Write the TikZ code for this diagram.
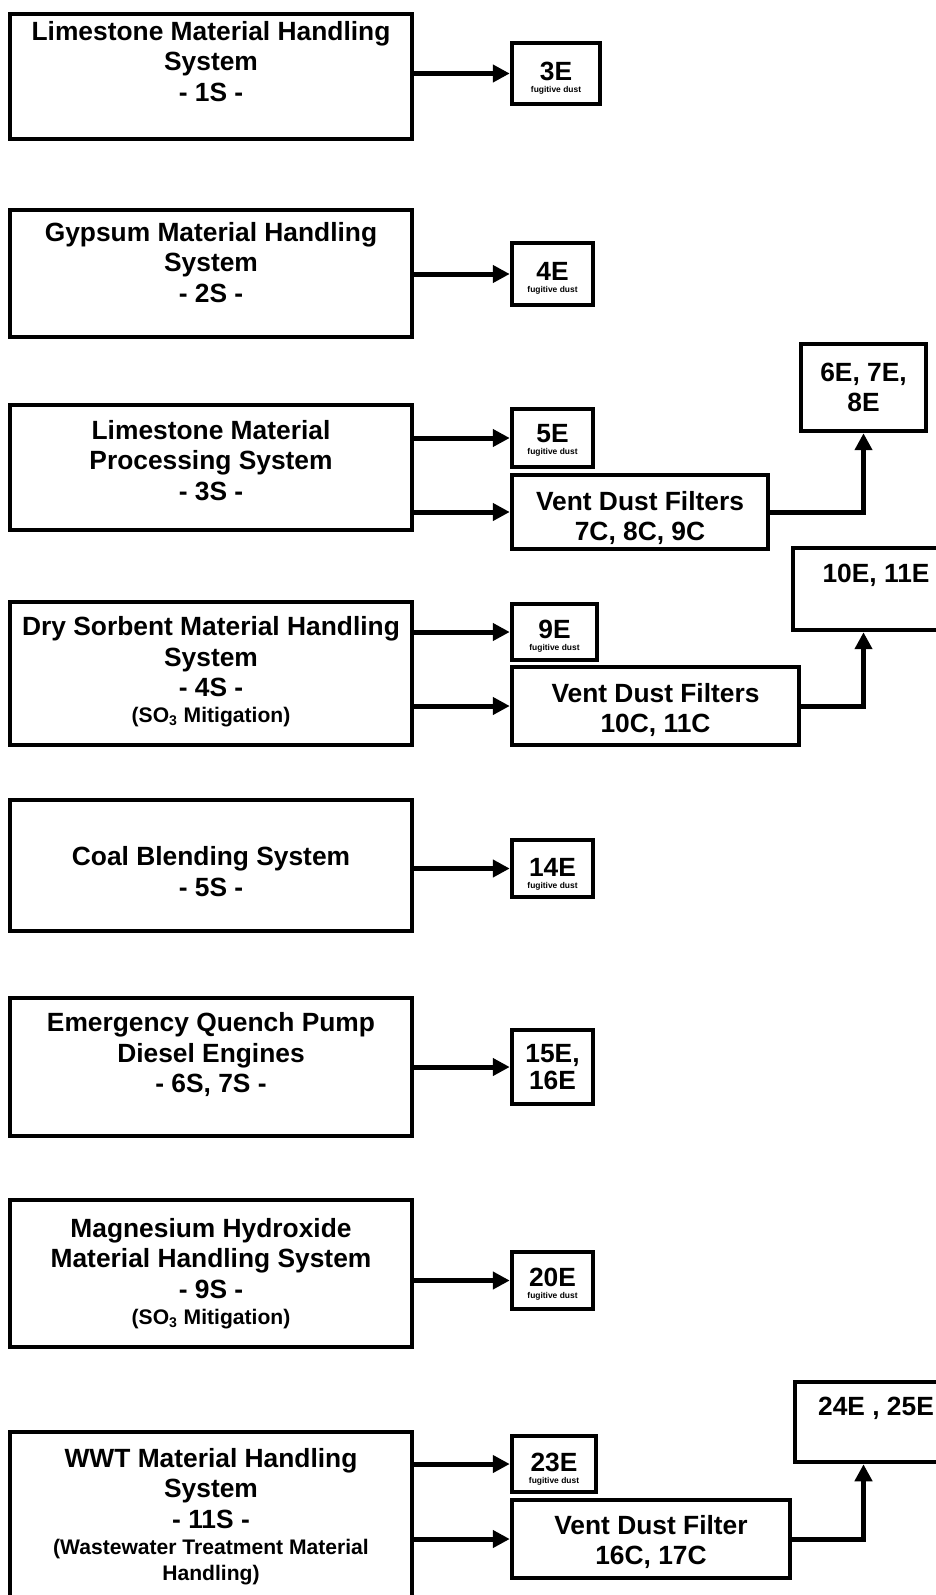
\documentclass[tikz,border=0pt]{standalone}
\usepackage{fontspec}
\setmainfont{Liberation Sans}
\usetikzlibrary{arrows.meta}
\newcommand{\fugdust}{{\fontsize{4.8}{5.5}\selectfont fugitive dust}}
\newcommand{\subnote}[1]{{\fontsize{12}{14}\selectfont #1}}
\newcommand{\topgap}[1]{\rule{0pt}{#1}}

\begin{document}
\begin{tikzpicture}[x=0.02cm, y=-0.02cm,
  sysbox/.style={draw, line width=0.09cm, inner sep=0pt, minimum width=8.04cm},
  systext/.style={font=\fontsize{15}{17.3}\selectfont\bfseries, align=center, inner sep=0pt},
  emitbox/.style={draw, line width=0.09cm, inner sep=0pt, align=center,
    font=\fontsize{15}{17.3}\selectfont\bfseries},
  flow/.style={line width=0.1cm, -{Triangle[length=0.34cm, width=0.34cm]}}]
  \useasboundingbox (0,0) rectangle (936,1595);
  \clip (0,0) rectangle (936,1595);
  % Limestone handling (1S)
  \node[sysbox, minimum height=2.5cm] (s1) at (211,76.5) {};
  \node[systext] (s1t) at (211,61.5) {Limestone Material Handling\\System\\- 1S -};
  \node[emitbox, minimum width=1.76cm, minimum height=1.22cm] (e3) at (556,73.5)
    {\topgap{15.5pt}3E\\[-10.5pt]\fugdust};
  \draw[flow] (s1.east |- e3.west) -- (e3.west);
  % Gypsum handling (2S)
  \node[sysbox, minimum height=2.54cm] (s2) at (211,273.5) {};
  \node[systext] (s2t) at (211,262.5) {Gypsum Material Handling\\System\\- 2S -};
  \node[emitbox, minimum width=1.62cm, minimum height=1.24cm] (e4) at (552.5,274)
    {\topgap{15.5pt}4E\\[-10.5pt]\fugdust};
  \draw[flow] (s2.east |- e4.west) -- (e4.west);
  % Limestone processing (3S) with vent filters
  \node[sysbox, minimum height=2.5cm] (s3) at (211,467.5) {};
  \node[systext] (s3t) at (211,460.5) {Limestone Material\\Processing System\\- 3S -};
  \node[emitbox, minimum width=1.62cm, minimum height=1.16cm] (e5) at (552.5,438)
    {\topgap{13pt}5E\\[-10.5pt]\fugdust};
  \node[emitbox, minimum width=5.12cm, minimum height=1.48cm] (v1) at (640,512)
    {\topgap{17.5pt}Vent Dust Filters\\7C, 8C, 9C};
  \node[emitbox, minimum width=2.5cm, minimum height=1.74cm] (e6) at (863.5,387.5)
    {6E, 7E,\\8E};
  \draw[flow] (s3.east |- e5.west) -- (e5.west);
  \draw[flow] (s3.east |- v1.west) -- (v1.west);
  \draw[flow] (v1.east) -| (e6.south);
  % Dry sorbent handling (4S)
  \node[sysbox, minimum height=2.86cm] (s4) at (211,673.5) {};
  \node[systext] (s4t) at (211,672)
    {Dry Sorbent Material Handling\\System\\- 4S -\\[-2.5pt]\subnote{(SO\textsubscript{3} Mitigation)}};
  \node[emitbox, minimum width=1.7cm, minimum height=1.12cm] (e9) at (554.5,632)
    {\topgap{15pt}9E\\[-10.5pt]\fugdust};
  \node[emitbox, minimum width=5.74cm, minimum height=1.56cm] (v2) at (655.5,706)
    {\topgap{15.5pt}Vent Dust Filters\\10C, 11C};
  \node[emitbox, minimum width=3.34cm, minimum height=1.64cm] (e10) at (876.5,589) {};
  \node[systext] (e10t) at (876,575) {10E, 11E};
  \draw[flow] (s4.east |- e9.west) -- (e9.west);
  \draw[flow] (s4.east |- v2.west) -- (v2.west);
  \draw[flow] (v2.east) -| (e10.south -| e6.south);
  % Coal blending (5S)
  \node[sysbox, minimum height=2.62cm] (s5) at (211,865.5) {};
  \node[systext] (s5t) at (211,871.5) {Coal Blending System\\- 5S -};
  \node[emitbox, minimum width=1.62cm, minimum height=1.14cm] (e14) at (552.5,868.5)
    {\topgap{16.5pt}14E\\[-10.5pt]\fugdust};
  \draw[flow] (s5.east |- e14.west) -- (e14.west);
  % Quench pump engines (6S, 7S)
  \node[sysbox, minimum height=2.76cm] (s6) at (211,1067) {};
  \node[systext] (s6t) at (211,1054.5) {Emergency Quench Pump\\Diesel Engines\\- 6S, 7S -};
  \node[emitbox, minimum width=1.62cm, minimum height=1.48cm] (e15) at (552.5,1067)
    {15E,\\[-2.3pt]16E};
  \draw[flow] (s6.east |- e15.west) -- (e15.west);
  % Magnesium hydroxide handling (9S)
  \node[sysbox, minimum height=2.94cm] (s7) at (211,1273.5) {};
  \node[systext] (s7t) at (211,1273.5)
    {Magnesium Hydroxide\\Material Handling System\\- 9S -\\[-2.5pt]\subnote{(SO\textsubscript{3} Mitigation)}};
  \node[emitbox, minimum width=1.62cm, minimum height=1.14cm] (e20) at (552.5,1280.5)
    {\topgap{14.5pt}20E\\[-10.5pt]\fugdust};
  \draw[flow] (s7.east |- e20.west) -- (e20.west);
  % WWT handling (11S)
  \node[sysbox, minimum height=3.3cm] (s8) at (211,1514.5) {};
  \node[systext] (s8t) at (211,1516.5)
    {WWT Material Handling\\System\\- 11S -\\[-2.5pt]\subnote{(Wastewater Treatment Material}\\[-2.5pt]\subnote{Handling)}};
  \node[emitbox, minimum width=1.68cm, minimum height=1.12cm] (e23) at (554,1464)
    {\topgap{16pt}23E\\[-10.5pt]\fugdust};
  \node[emitbox, minimum width=5.56cm, minimum height=1.56cm] (v3) at (651,1539)
    {\topgap{14.5pt}Vent Dust Filter\\16C, 17C};
  \node[emitbox, minimum width=3.3cm, minimum height=1.6cm] (e24) at (877.5,1422) {};
  \node[systext] (e24t) at (876,1408) {24E , 25E};
  \draw[flow] (s8.east |- e23.west) -- (e23.west);
  \draw[flow] (s8.east |- v3.west) -- (v3.west);
  \draw[flow] (v3.east) -| (e24.south -| e6.south);
\end{tikzpicture}
\end{document}
